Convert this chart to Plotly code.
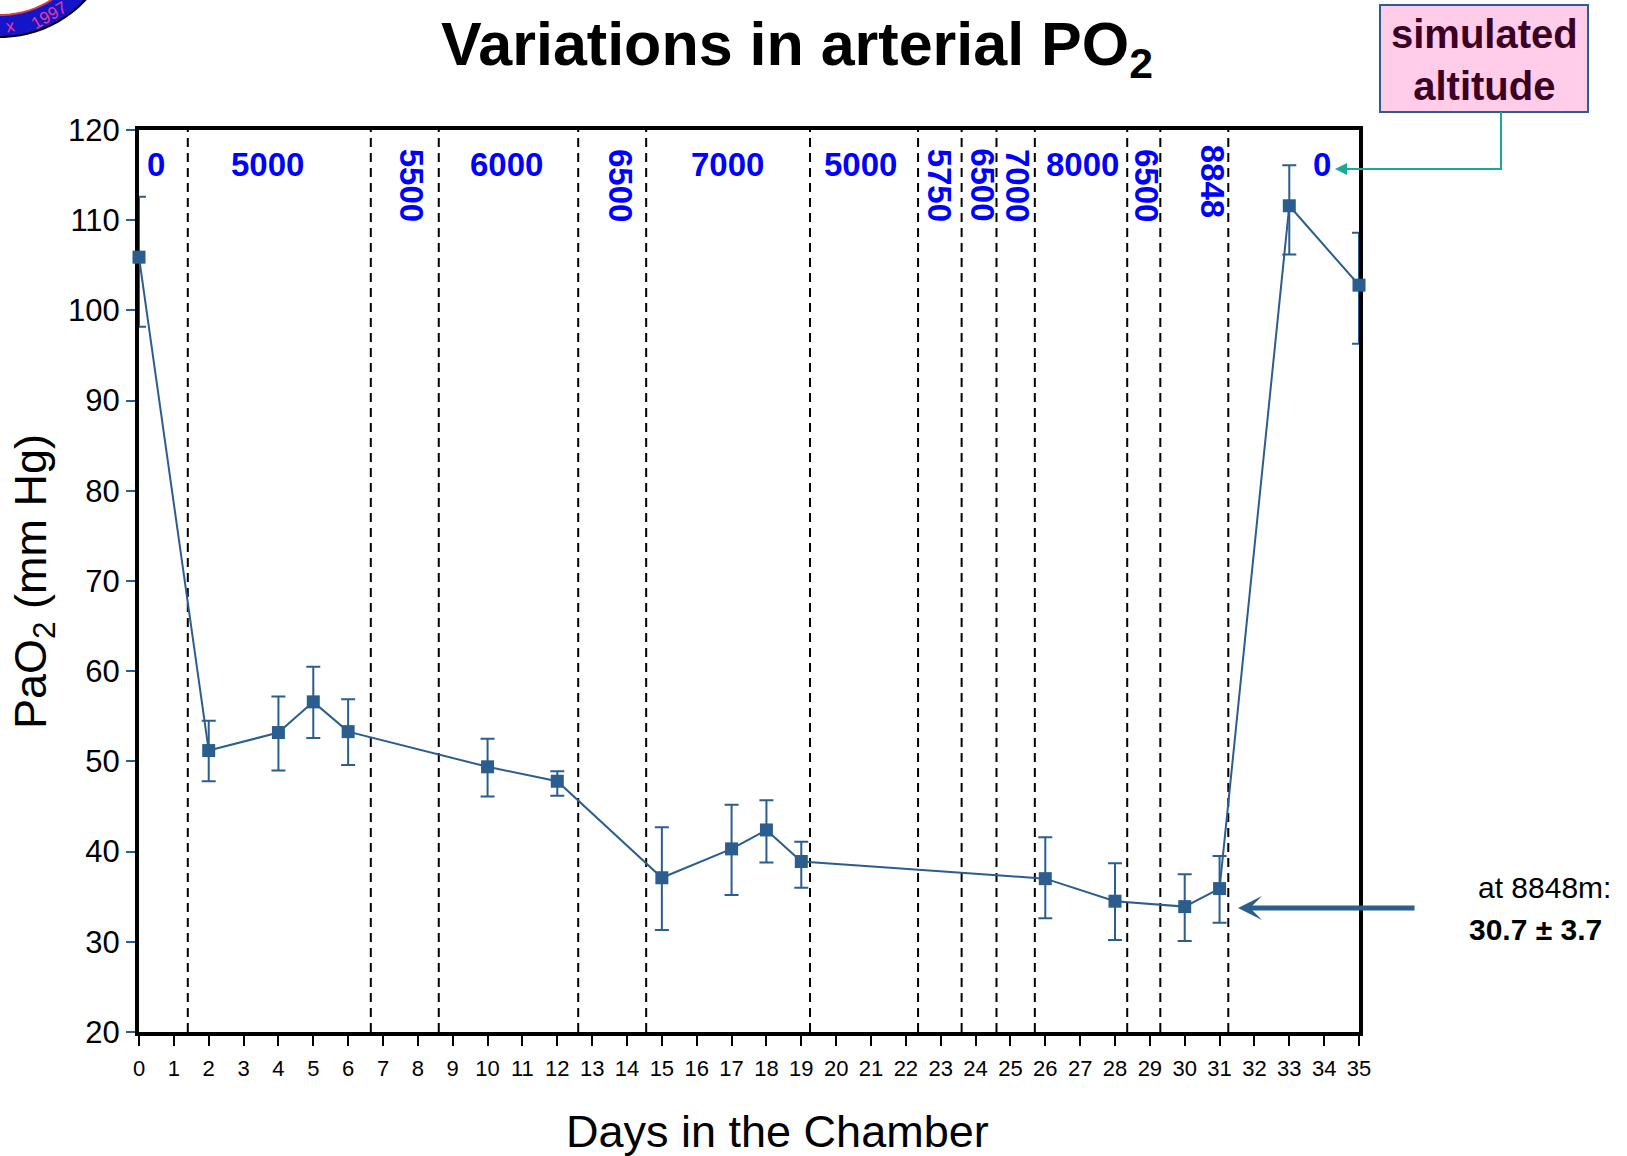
import numpy as np
import plotly.graph_objects as go

# ---------------- data ----------------
days = [0, 2, 4, 5, 6, 10, 12, 15, 17, 18, 19, 26, 28, 30, 31, 33, 35]
pao2 = [105.9, 51.2, 53.2, 56.6, 53.3, 49.4, 47.8, 37.1, 40.3, 42.4, 38.9, 37.0, 34.5, 33.9, 35.9, 111.6, 102.8]
err_plus = [6.7, 3.3, 4.0, 3.9, 3.6, 3.1, 1.1, 5.6, 4.9, 3.3, 2.2, 4.6, 4.2, 3.6, 3.6, 4.5, 5.8]
err_minus = [7.7, 3.4, 4.2, 4.0, 3.7, 3.3, 1.6, 5.8, 5.1, 3.6, 2.9, 4.4, 4.3, 3.8, 3.8, 5.4, 6.5]

phase_boundaries = [1.4, 6.65, 8.6, 12.6, 14.55, 19.25, 22.35, 23.6, 24.6, 25.7, 28.35, 29.3, 31.25]

alt_h_labels = ["0", "5000", "6000", "7000", "5000", "8000", "0"]
alt_h_x = [0.48, 3.7, 10.55, 16.88, 20.69, 27.07, 33.93]
alt_v_labels = ["5500", "6500", "5750", "6500", "7000", "6500", "8848"]
alt_v_x = [7.84, 13.83, 22.99, 24.21, 25.22, 28.92, 30.8]
alt_v_y = [113.9, 113.9, 113.9, 113.9, 113.9, 113.9, 114.3]

x_ticks = list(range(0, 36))
y_ticks = list(range(20, 121, 10))

FONT = "Arial, Liberation Sans, sans-serif"
BLUE = "#2b5d8e"

# ---------------- layout geometry ----------------
W, H = 1627, 1156
L, R, T, B = 139, 1359, 130, 1032


def px(x):
    return (x - L) / (R - L)


def py(y):
    return (B - y) / (B - T)


def circle_path(cx, cy, r, n=90):
    ang = np.linspace(0, 2 * np.pi, n, endpoint=False)
    pts = [(px(cx + r * np.cos(a)), py(cy + r * np.sin(a))) for a in ang]
    return "M " + " L ".join(f"{a:.5f} {b:.5f}" for a, b in pts) + " Z"


fig = go.Figure()

fig.add_trace(go.Scatter(
    x=days, y=pao2, mode="lines+markers",
    line=dict(color=BLUE, width=2),
    marker=dict(symbol="square", size=13, color=BLUE),
    error_y=dict(type="data", symmetric=False, array=err_plus, arrayminus=err_minus,
                 color=BLUE, thickness=2, width=7),
    cliponaxis=False, showlegend=False,
))

shapes = []
for xb in phase_boundaries:
    shapes.append(dict(type="line", xref="x", yref="paper", x0=xb, x1=xb, y0=0, y1=1,
                       line=dict(color="black", width=2, dash="9px,6px"), layer="below"))

# logo (partial, top-left corner)
shapes.append(dict(type="path", xref="paper", yref="paper", path=circle_path(0, -80, 117),
                   fillcolor="#1414c8", line=dict(color="black", width=2)))
shapes.append(dict(type="path", xref="paper", yref="paper", path=circle_path(0, -80, 95),
                   fillcolor="white", line=dict(color="#d04050", width=2)))

# simulated altitude box
shapes.append(dict(type="rect", xref="paper", yref="paper",
                   x0=px(1380), x1=px(1588), y0=py(112), y1=py(5),
                   fillcolor="#ffcce9", line=dict(color=BLUE, width=2)))
# connector
shapes.append(dict(type="path", xref="paper", yref="paper",
                   path=f"M {px(1501)} {py(112)} L {px(1501)} {py(169)} L {px(1350)} {py(169)}",
                   line=dict(color="#1aa898", width=2)))

annotations = []
for lab, xv in zip(alt_h_labels, alt_h_x):
    annotations.append(dict(x=xv, y=116.2, xref="x", yref="y", text=f"<b>{lab}</b>",
                            showarrow=False, font=dict(family=FONT, size=33, color="#0000ff"),
                            xanchor="center", yanchor="middle"))
for lab, xv, yv in zip(alt_v_labels, alt_v_x, alt_v_y):
    annotations.append(dict(x=xv, y=yv, xref="x", yref="y", text=f"<b>{lab}</b>", textangle=90,
                            showarrow=False, font=dict(family=FONT, size=33, color="#0000ff"),
                            xanchor="center", yanchor="middle"))

# title
annotations.append(dict(x=px(797), y=py(49), xref="paper", yref="paper",
                        text="<b>Variations in arterial PO<sub>2</sub></b>", showarrow=False,
                        font=dict(family=FONT, size=61, color="black"),
                        xanchor="center", yanchor="middle"))
# axis titles
annotations.append(dict(x=px(777), y=py(1131), xref="paper", yref="paper",
                        text="Days in the Chamber", showarrow=False,
                        font=dict(family=FONT, size=45, color="black"),
                        xanchor="center", yanchor="middle"))
annotations.append(dict(x=px(33), y=py(582), xref="paper", yref="paper",
                        text="PaO<sub>2</sub> (mm Hg)", showarrow=False, textangle=-90,
                        font=dict(family=FONT, size=45, color="black"),
                        xanchor="center", yanchor="middle"))
# simulated altitude text
annotations.append(dict(x=px(1484), y=py(60), xref="paper", yref="paper",
                        text="<b>simulated<br>altitude</b>", showarrow=False,
                        font=dict(family=FONT, size=40, color="#3b0022"),
                        xanchor="center", yanchor="middle"))
# teal arrow head
annotations.append(dict(x=px(1335), y=py(169), xref="paper", yref="paper",
                        ax=25, ay=0, axref="pixel", ayref="pixel",
                        text="", showarrow=True, arrowhead=2, arrowsize=1.2, arrowwidth=2,
                        arrowcolor="#1aa898"))
# 8848 arrow
annotations.append(dict(x=px(1238), y=py(908), xref="paper", yref="paper",
                        ax=178, ay=0, axref="pixel", ayref="pixel",
                        text="", showarrow=True, arrowhead=3, arrowsize=0.8, arrowwidth=5,
                        arrowcolor=BLUE))
annotations.append(dict(x=px(1613), y=py(887), xref="paper", yref="paper",
                        text="at 8848m:", showarrow=False,
                        font=dict(family=FONT, size=30, color="black"),
                        xanchor="right", yanchor="middle"))
annotations.append(dict(x=px(1535), y=py(929), xref="paper", yref="paper",
                        text="<b>30.7 ± 3.7</b>", showarrow=False,
                        font=dict(family=FONT, size=30, color="black"),
                        xanchor="center", yanchor="middle"))
# logo text
annotations.append(dict(x=px(49), y=py(15), xref="paper", yref="paper", text="1997",
                        showarrow=False, textangle=-30, xanchor="center", yanchor="middle",
                        font=dict(family=FONT, size=17, color="#e8399a")))
annotations.append(dict(x=px(10), y=py(26), xref="paper", yref="paper", text="x",
                        showarrow=False, textangle=-10, xanchor="center", yanchor="middle",
                        font=dict(family=FONT, size=17, color="#e8399a")))

fig.update_layout(
    width=W, height=H,
    margin=dict(l=L, r=W - R, t=T, b=H - B),
    paper_bgcolor="white", plot_bgcolor="white",
    shapes=shapes, annotations=annotations,
    font=dict(family=FONT, color="black"),
    xaxis=dict(range=[0, 35], tickvals=x_ticks, ticktext=[str(v) for v in x_ticks],
               showgrid=False, zeroline=False, showline=True, linecolor="black", linewidth=4,
               mirror=True, ticks="outside", ticklen=10, tickwidth=2, tickcolor="black",
               ticklabelstandoff=4,
               tickfont=dict(family=FONT, size=22, color="black"), layer="below traces"),
    yaxis=dict(range=[20, 120], tickvals=y_ticks, ticktext=[str(v) for v in y_ticks],
               showgrid=False, zeroline=False, showline=True, linecolor="black", linewidth=4,
               mirror=True, ticks="outside", ticklen=9, tickwidth=2, tickcolor=BLUE,
               tickfont=dict(family=FONT, size=31, color="black"), layer="below traces"),
)

fig.write_html("out.html")
